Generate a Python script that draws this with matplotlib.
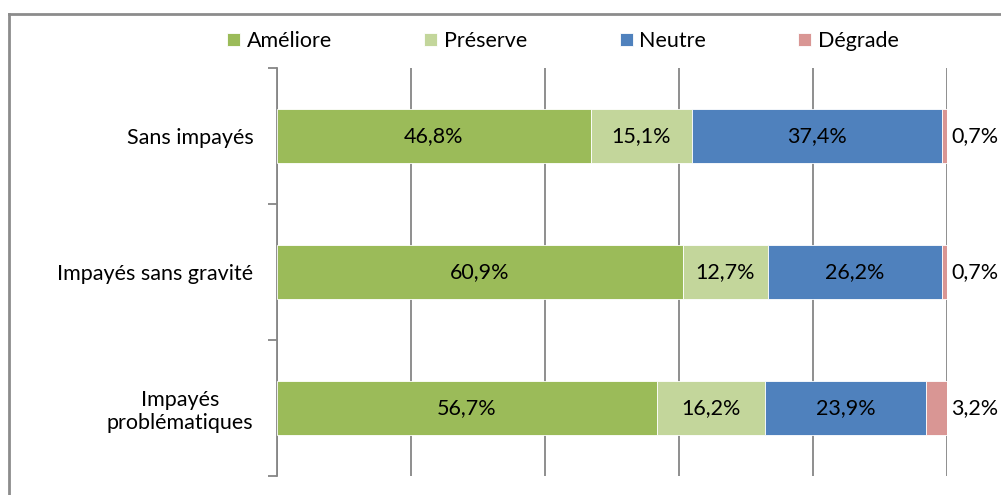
import matplotlib.pyplot as plt
from matplotlib.lines import Line2D
import numpy as np

categories = ["Sans impayés", "Impayés sans gravité", "Impayés\nproblématiques"]
series_names = ["Améliore", "Préserve", "Neutre", "Dégrade"]
ameliore = [46.8, 60.9, 56.7]
preserve = [15.1, 12.7, 16.2]
neutre = [37.4, 26.2, 23.9]
degrade = [0.7, 0.7, 3.2]
colors = ["#9BBB59", "#C3D69B", "#4F81BD", "#D99694"]

plt.rcParams["font.family"] = ["Lato", "DejaVu Sans"]
plt.rcParams["font.size"] = 15.5


def fmt(v):
    return f"{v:.1f}%".replace(".", ",")


fig = plt.figure(figsize=(10.01, 4.95), dpi=100)
ax = fig.add_axes([277 / 1001, 19 / 495, 670 / 1001, 408 / 495])

all_series = [ameliore, preserve, neutre, degrade]
# 100% stacked: each row is scaled to its own total
totals = np.sum(np.array(all_series), axis=0)

y = np.arange(len(categories))
left = np.zeros(len(categories))
for i, (name, values) in enumerate(zip(series_names, all_series)):
    widths = np.array(values) / totals * 100
    rects = ax.barh(y, widths, 0.4, left=left, color=colors[i], label=name,
                    edgecolor="white", linewidth=0.6, zorder=3)
    labels = [fmt(v) for v in values]
    if i < 3:
        ax.bar_label(rects, labels=labels, label_type="center", color="black")
    else:
        ax.bar_label(rects, labels=labels, label_type="edge", padding=3, color="black")
    left += widths

ax.set_xlim(0, 100)
ax.set_ylim(2.5, -0.5)
ax.set_xticks(np.arange(0, 101, 20))
ax.set_xticklabels([])
ax.tick_params(axis="x", length=0)
ax.grid(axis="x", color="#868686", linewidth=1.3, zorder=0)

ax.set_yticks(y)
ax.set_yticklabels(categories, multialignment="center")
ax.tick_params(axis="y", which="major", length=0, pad=17)
ax.set_yticks([-0.5, 0.5, 1.5, 2.5], minor=True)
ax.tick_params(axis="y", which="minor", length=6.5, width=1.3, color="#868686", direction="out")

for s in ["top", "right", "bottom"]:
    ax.spines[s].set_visible(False)
ax.spines["left"].set_color("#868686")
ax.spines["left"].set_linewidth(1.3)

fig.legend(loc="center", bbox_to_anchor=(563 / 1001, 1 - 41 / 495), ncol=4,
           frameon=False, handlelength=0.6, handleheight=0.6, handletextpad=0.3,
           columnspacing=4.3)

# outer chart border (only top and left visible)
fig.add_artist(Line2D([9 / 1001, 9 / 1001], [0, 1 - 14 / 495], transform=fig.transFigure,
                      color="#8c8c8c", linewidth=2))
fig.add_artist(Line2D([9 / 1001, 1], [1 - 14 / 495, 1 - 14 / 495], transform=fig.transFigure,
                      color="#8c8c8c", linewidth=2))

fig.savefig("out.png", dpi=100)
